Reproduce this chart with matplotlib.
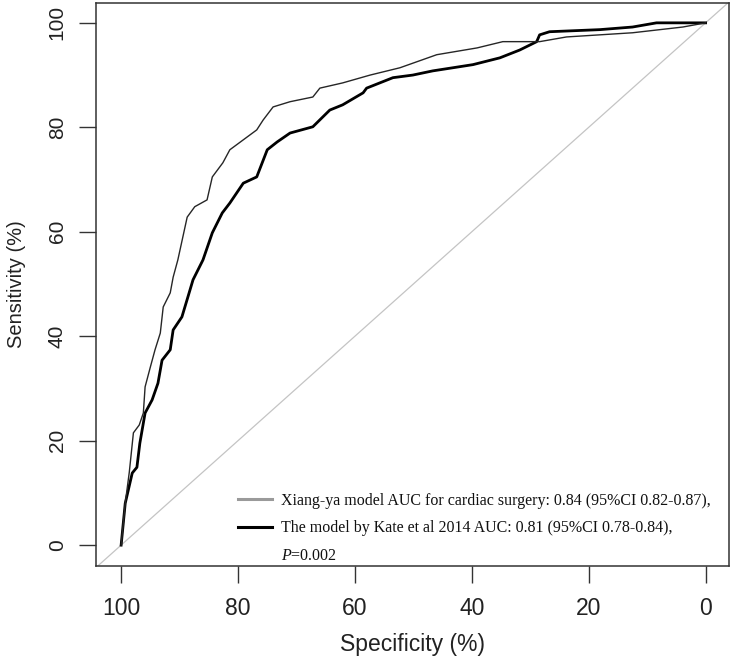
import matplotlib
matplotlib.use("Agg")
import matplotlib.pyplot as plt
from matplotlib.lines import Line2D

plt.rcParams['mathtext.fontset'] = 'custom'
plt.rcParams['mathtext.it'] = 'Liberation Serif:italic'
plt.rcParams['mathtext.rm'] = 'Liberation Serif'

# Xiang-ya model (thin curve): specificity (%), sensitivity (%)
xy_spec = [100, 99.3, 98.6, 97.9, 96.9, 96.2, 95.9, 95.0, 94.2, 93.3, 92.8, 91.6, 91.1, 90.3,
           88.7, 87.4, 85.3, 84.4, 82.6, 81.4, 79.1, 76.8, 75.7, 74.0, 71.1, 67.2, 66.0,
           62.1, 57.4, 52.3, 46.0, 39.1, 34.7, 28.4, 23.8, 12.5, 3.9, 0]
xy_sens = [0, 8.0, 14.0, 21.5, 23.0, 25.3, 30.3, 34.1, 37.4, 40.6, 45.6, 48.3, 51.3, 54.6,
           62.8, 64.8, 66.1, 70.5, 73.2, 75.7, 77.6, 79.5, 81.4, 83.9, 84.9, 85.8, 87.5,
           88.5, 90.0, 91.4, 93.9, 95.2, 96.4, 96.4, 97.3, 98.1, 99.2, 100]

# Model by Kate et al 2014 (thick curve)
kate_spec = [100, 99.3, 98.1, 97.3, 96.8, 95.9, 94.7, 93.7, 93.0, 91.6, 91.1, 89.6, 88.5,
             87.7, 86.0, 84.4, 82.7, 81.4, 79.1, 76.8, 75.0, 73.3, 71.1, 67.2, 64.3, 62.1,
             58.6, 58.0, 53.5, 50.1, 46.7, 39.8, 35.2, 31.8, 28.9, 28.4, 26.7, 18.1, 12.5,
             8.4, 0]
kate_sens = [0, 8.0, 13.8, 14.9, 19.5, 25.3, 27.8, 31.0, 35.4, 37.4, 41.2, 43.7, 47.8,
             50.8, 54.6, 59.8, 63.6, 65.5, 69.3, 70.5, 75.7, 77.2, 78.9, 80.1, 83.3, 84.3,
             86.6, 87.5, 89.5, 90.0, 90.8, 92.0, 93.3, 94.8, 96.4, 97.7, 98.3, 98.7, 99.2,
             100, 100]

xticks = [100, 80, 60, 40, 20, 0]
yticks = [0, 20, 40, 60, 80, 100]
legend_labels = ["Xiang-ya model AUC for cardiac surgery: 0.84 (95%CI 0.82-0.87),",
                 "The model by Kate et al 2014 AUC: 0.81 (95%CI 0.78-0.84),",
                 "$P$=0.002"]

fig = plt.figure(figsize=(7.33, 6.56), dpi=100)
ax = fig.add_axes([96/733, 1 - 566/656, (729 - 96)/733, (566 - 3)/656])

ax.axline((100, 0), (0, 100), color='#c4c4c4', lw=0.9, zorder=1)
ax.plot(xy_spec, xy_sens, color='#262626', lw=1.0, zorder=3)
ax.plot(kate_spec, kate_sens, color='black', lw=2.0, zorder=2)

ax.set_xlim(104.3, -4.0)
ax.set_ylim(-4.0, 103.8)
ax.set_xticks(xticks)
ax.set_yticks(yticks)

ax.set_xticklabels([str(t) for t in xticks], family='Liberation Sans', size=16.5, color='#222222')
ax.set_yticklabels([str(t) for t in yticks], family='Liberation Sans', size=15, color='#222222',
                   rotation=90, va='center')
ax.tick_params(axis='both', length=12, width=1.0, color='#333333', direction='out')
ax.tick_params(axis='x', pad=10)
ax.tick_params(axis='y', pad=9)
for s in ax.spines.values():
    s.set_linewidth(1.1)
    s.set_color('#333333')

ax.set_xlabel("Specificity (%)", family='Liberation Sans', size=16.5, color='#222222', labelpad=10)
ax.set_ylabel("Sensitivity (%)", family='Liberation Sans', size=14.5, color='#222222', labelpad=16)

handles = [Line2D([], [], color='#9a9a9a', lw=2.2),
           Line2D([], [], color='black', lw=2.2),
           Line2D([], [], color='none', lw=0)]
leg = ax.legend(handles, legend_labels, loc='upper left',
                bbox_to_anchor=(238/733, 1 - 493/656), bbox_transform=fig.transFigure,
                frameon=False, borderpad=0, borderaxespad=0,
                handlelength=2.1, handletextpad=0.6, labelspacing=0.72,
                prop=dict(family='Liberation Serif', size=11.5))
for t in leg.get_texts():
    t.set_color('#111111')

fig.savefig("out.png", dpi=100)
